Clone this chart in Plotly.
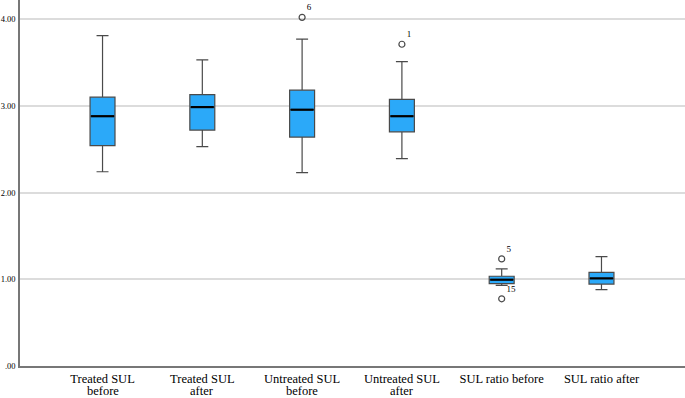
import plotly.graph_objects as go

line1 = ["Treated SUL", "Treated SUL", "Untreated SUL", "Untreated SUL",
         "SUL ratio before", "SUL ratio after"]
line2 = ["before", "after", "before", "after", "", ""]
lower_whisker = [2.24, 2.53, 2.23, 2.39, 0.93, 0.88]
q1 = [2.54, 2.72, 2.64, 2.70, 0.95, 0.945]
median = [2.88, 2.985, 2.955, 2.88, 0.995, 1.01]
q3 = [3.10, 3.13, 3.18, 3.075, 1.035, 1.08]
upper_whisker = [3.81, 3.53, 3.77, 3.51, 1.12, 1.26]

outlier_cat = [2, 3, 4, 4]
outlier_val = [4.02, 3.71, 1.235, 0.775]
outlier_lbl = ["6", "1", "5", "15"]

y_ticks = [0, 1, 2, 3, 4]
y_ticktext = [".00", "1.00", "2.00", "3.00", "4.00"]

FILL = "#2BA9F9"
EDGE = "#4a4a4a"
xpos = list(range(len(line1)))
half = 0.125
SERIF = "Liberation Serif"

fig = go.Figure()
fig.add_trace(go.Box(
    x=xpos, q1=q1, median=median, q3=q3,
    lowerfence=lower_whisker, upperfence=upper_whisker,
    width=0.25, whiskerwidth=0.48,
    fillcolor=FILL, line=dict(color=EDGE, width=1.2),
    boxpoints=False, showlegend=False, hoverinfo="skip",
))

mx, my = [], []
for i, m in zip(xpos, median):
    mx += [i - half + 0.01, i + half - 0.01, None]
    my += [m, m, None]
fig.add_trace(go.Scatter(x=mx, y=my, mode="lines",
                         line=dict(color="black", width=2.2),
                         showlegend=False, hoverinfo="skip"))

fig.add_trace(go.Scatter(
    x=outlier_cat, y=outlier_val, mode="markers+text",
    marker=dict(symbol="circle-open", size=6, color=EDGE, line=dict(width=1.2)),
    text=outlier_lbl, textposition="top right",
    textfont=dict(family=SERIF, size=9, color="black"),
    showlegend=False, hoverinfo="skip"))

for i, t in zip(xpos, line2):
    if t:
        fig.add_annotation(x=i, xref="x", y=0, yref="paper", text=t,
                           showarrow=False, yanchor="middle", yshift=-25,
                           font=dict(family=SERIF, size=12.5, color="black"))

fig.update_layout(
    width=685, height=398,
    margin=dict(l=20, r=0, t=0, b=32),
    paper_bgcolor="white", plot_bgcolor="white",
    font=dict(family=SERIF, color="black"),
    xaxis=dict(range=[-0.827, 5.837], tickvals=xpos, ticktext=line1,
               showgrid=False, zeroline=False, showline=True, automargin=False,
               linecolor="#777", linewidth=1.5, ticks="", ticklabelstandoff=0,
               tickfont=dict(size=12.5, family=SERIF, color="black")),
    yaxis=dict(range=[0, 4.22], tickvals=y_ticks, ticktext=y_ticktext,
               showgrid=True, gridcolor="#dcdcdc", gridwidth=1.5, automargin=False,
               zeroline=False, showline=True, linecolor="#777", linewidth=1.5,
               ticks="", ticklabelstandoff=1,
               tickfont=dict(size=8.5, family=SERIF, color="black")),
)

fig.write_html("out.html", config={"displayModeBar": False},
               post_script="document.body.style.margin='0';document.body.style.overflow='hidden';")
